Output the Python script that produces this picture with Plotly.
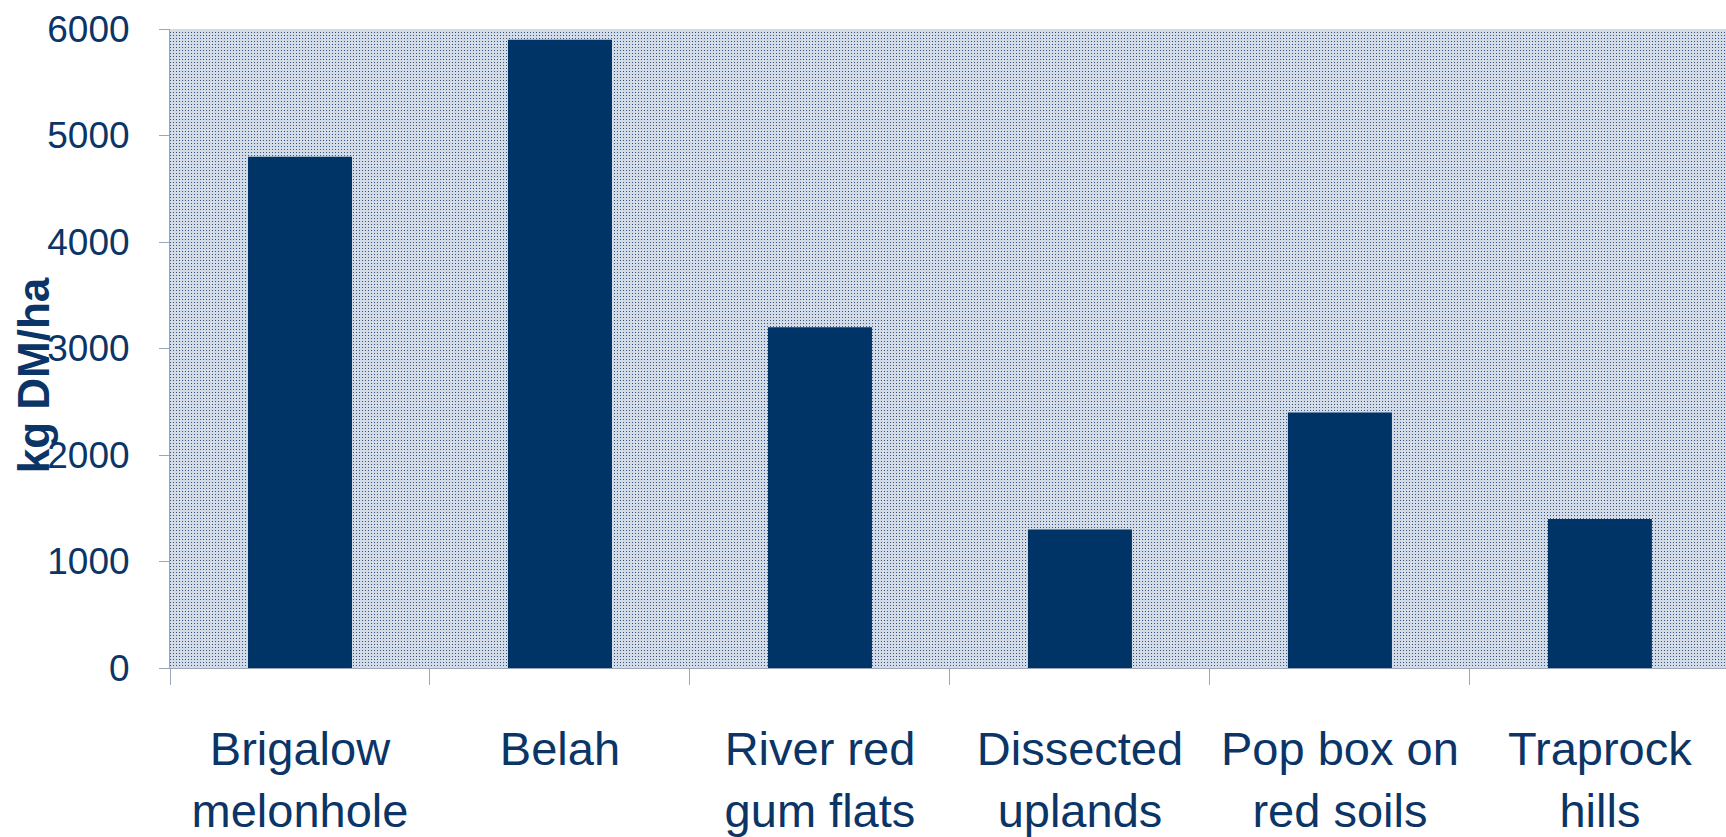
import plotly.graph_objects as go

# Pasture dry matter by land type
categories = [
    "Brigalow<br>melonhole",
    "Belah",
    "River red<br>gum flats",
    "Dissected<br>uplands",
    "Pop box on<br>red soils",
    "Traprock<br>hills",
]
dry_matter = [4800, 5900, 3200, 1300, 2400, 1400]
y_tick_values = [0, 1000, 2000, 3000, 4000, 5000, 6000]

NAVY = "#003366"
TEXT = "#0b3566"
DOT = "rgba(20,60,110,0.85)"
TICK = "#9aa6b8"
FONT = "Liberation Sans, Arial, sans-serif"

fig = go.Figure()
fig.add_trace(
    go.Bar(
        x=categories,
        y=dry_matter,
        width=0.4,
        marker=dict(color=NAVY, line=dict(width=0)),
        hoverinfo="x+y",
    )
)

fig.update_layout(
    width=1726,
    height=837,
    margin=dict(l=170, r=0, t=29, b=169),
    paper_bgcolor="white",
    plot_bgcolor="#d3dbe6",
    showlegend=False,
    bargap=0.6,
    font=dict(family=FONT, color=TEXT),
    xaxis=dict(
        type="category",
        range=[-0.5, 5.485],
        ticks="outside",
        tickson="boundaries",
        ticklen=16,
        tickcolor=TICK,
        tickwidth=1,
        showgrid=False,
        showline=True,
        linecolor=TICK,
        tickfont=dict(size=47, color=TEXT),
        ticklabelstandoff=40,
    ),
    # dotted texture behind the bars (vertical component)
    xaxis2=dict(
        type="linear",
        overlaying="x",
        anchor="y",
        range=[-0.5, 5.485],
        showticklabels=False,
        ticks="",
        showgrid=False,
        zeroline=False,
        minor=dict(
            dtick=1 / 87,
            tick0=-0.5,
            showgrid=True,
            gridcolor=DOT,
            gridwidth=1,
            griddash="1px,2px",
        ),
    ),
    yaxis=dict(
        range=[0, 6000],
        tickvals=y_tick_values,
        ticks="outside",
        ticklen=10,
        tickcolor=TICK,
        showline=True,
        linecolor=TICK,
        zeroline=False,
        showgrid=False,
        tickfont=dict(size=37, color=TEXT),
        ticklabelstandoff=22,
        minor=dict(
            dtick=6000 / 213,
            tick0=0,
            showgrid=True,
            gridcolor=DOT,
            gridwidth=1,
            griddash="1px,2px",
        ),
    ),
    annotations=[
        dict(
            text="<b>kg DM/ha</b>",
            textangle=-90,
            xref="paper",
            yref="paper",
            x=(33 - 170) / 1556,
            y=0.458,
            xanchor="center",
            yanchor="middle",
            showarrow=False,
            font=dict(size=44, color=TEXT, family=FONT),
        )
    ],
)

fig.write_html("out.html")
